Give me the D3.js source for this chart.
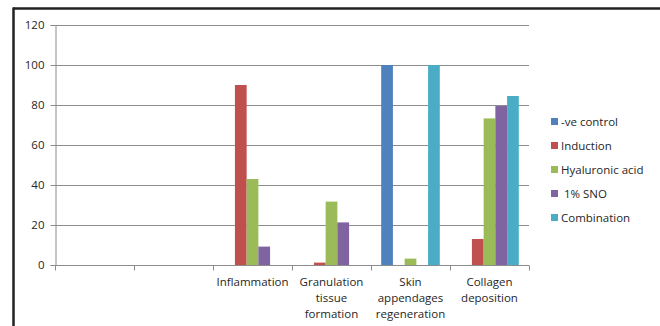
<!DOCTYPE html>
<html lang="en">
<head>
	<meta charset="UTF-8">
	<title>Wound healing scores</title>
	<script src="https://cdn.jsdelivr.net/npm/d3@7"></script>
	<style>
		body { margin: 0; background: #fff; }
		text { font-family: "Open Sans", sans-serif; fill: #262626; }
	</style>
</head>
<body>
	<div id="container"></div>
	<script>
		var width = 660;
		var height = 326;

		// two leading empty categories as in the original sheet
		var categories = ["", " ", "Inflammation", "Granulation tissue formation", "Skin appendages regeneration", "Collagen deposition"];
		var labelLines = [[], [], ["Inflammation"], ["Granulation", "tissue", "formation"], ["Skin", "appendages", "regeneration"], ["Collagen", "deposition"]];
		var series = ["-ve control", "Induction", "Hyaluronic acid", " 1% SNO", "Combination"];
		var colors = ["#4F81BD", "#C0504D", "#9BBB59", "#8064A2", "#4BACC6"];

		var veControl   = [0, 0, 0, 0, 100, 0];
		var induction   = [0, 0, 90, 1.2, 0, 13];
		var hyaluronic  = [0, 0, 43, 31.7, 3.2, 73.3];
		var sno         = [0, 0, 9.2, 21.3, 0, 79.5];
		var combination = [0, 0, 0, 0, 100, 84.5];
		var values = [veControl, induction, hyaluronic, sno, combination];

		var yTicks = [0, 20, 40, 60, 80, 100, 120];

		var svg = d3.select("#container").append("svg")
				.attr("width", width)
				.attr("height", height);

		// outer frame (top and left edges visible)
		svg.append("line").attr("x1", 13).attr("y1", 8.5).attr("x2", width).attr("y2", 8.5)
			.style("stroke", "#222").style("stroke-width", 2.5);
		svg.append("line").attr("x1", 13.5).attr("y1", 7.5).attr("x2", 13.5).attr("y2", height)
			.style("stroke", "#222").style("stroke-width", 2.5);

		var x = d3.scaleBand()
				.domain(categories)
				.range([55, 529]);

		var xs = d3.scaleBand()
				.domain(series)
				.range([0, x.bandwidth()])
				.paddingOuter(0.87);

		var y = d3.scaleLinear()
				.domain([0, 120])
				.range([265, 25]);

		// gridlines
		svg.selectAll(".grid").data(yTicks.slice(1))
			.enter().append("line")
				.attr("x1", 55)
				.attr("x2", 529)
				.attr("y1", d => Math.round(y(d)) + 0.5)
				.attr("y2", d => Math.round(y(d)) + 0.5)
				.style("stroke", "#8c8c8c")
				.style("stroke-width", 1);

		// bars
		var groups = svg.selectAll(".series").data(values)
			.enter().append("g")
				.attr("fill", (d, i) => colors[i]);

		groups.selectAll("rect").data((d, i) => d.map((v, j) => ({v: v, c: categories[j], s: series[i]})))
			.enter().append("rect")
				.filter(d => d.v > 0)
				.attr("x", d => x(d.c) + xs(d.s))
				.attr("width", xs.bandwidth())
				.attr("y", d => y(d.v))
				.attr("height", d => y(0) - y(d.v));

		// y axis
		var yAxis = svg.append("g")
				.attr("transform", "translate(55.5,0)")
				.call(d3.axisLeft(y).tickValues(yTicks).tickSize(5).tickPadding(6));
		yAxis.select(".domain").style("stroke", "#8c8c8c");
		yAxis.selectAll(".tick line").style("stroke", "#8c8c8c");
		yAxis.selectAll(".tick text").style("font-size", "11.5px").style("fill", "#262626");

		// x axis
		var xAxis = svg.append("g")
				.attr("transform", "translate(0," + (Math.round(y(0)) + 0.5) + ")");
		xAxis.append("line").attr("x1", 55).attr("x2", 529)
			.style("stroke", "#8c8c8c");
		var tickXs = categories.map(c => x(c)).concat([x(categories[categories.length - 1]) + x.bandwidth()]);
		xAxis.selectAll(".xtick").data(tickXs)
			.enter().append("line")
				.attr("x1", d => Math.round(d) + 0.5)
				.attr("x2", d => Math.round(d) + 0.5)
				.attr("y1", 0)
				.attr("y2", 5)
				.style("stroke", "#8c8c8c");

		var labels = svg.selectAll(".xlabel").data(categories)
			.enter().append("text")
				.attr("text-anchor", "middle")
				.style("font-size", "11.5px")
				.attr("transform", d => "translate(" + (x(d) + x.bandwidth() / 2) + ",286)");
		labels.selectAll("tspan").data((d, i) => labelLines[i])
			.enter().append("tspan")
				.attr("x", 0)
				.attr("y", (d, i) => i * 16)
				.text(d => d);

		// legend
		var legend = svg.selectAll(".legend").data(series)
			.enter().append("g")
				.attr("transform", (d, i) => "translate(551," + (118 + i * 24) + ")");
		legend.append("rect")
				.attr("width", 7)
				.attr("height", 7)
				.attr("fill", (d, i) => colors[i]);
		legend.append("text")
				.attr("x", 10)
				.attr("y", 7.5)
				.style("font-size", "11.5px")
				.style("white-space", "pre")
				.text(d => d);
	</script>
</body>
</html>
